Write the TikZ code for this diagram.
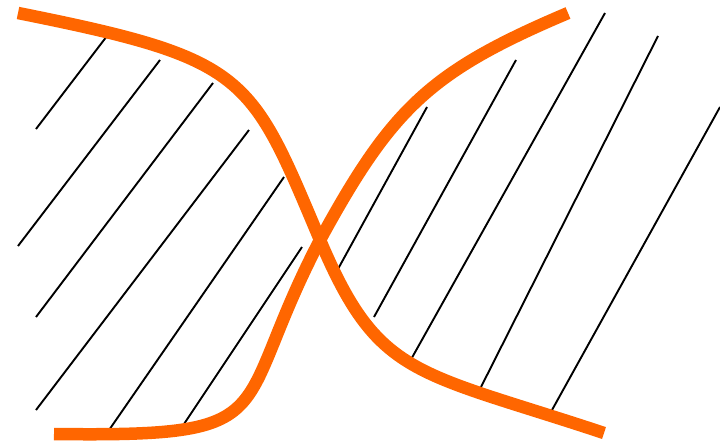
\documentclass[tikz,border=0pt]{standalone}
\usepackage{tikz}
\definecolor{curveorange}{HTML}{FF6600}
\tikzset{
  curve/.style={draw=curveorange, line width=12.5pt},
  hatch/.style={draw=black, line width=1.9pt}
}
\begin{document}
\begin{tikzpicture}[x=1pt, y=-1pt]
\useasboundingbox (0,0) rectangle (720,442);
% hatching, left group
\draw[hatch] (36,129) -- (107,36);
\draw[hatch] (18,246) -- (160,60);
\draw[hatch] (36,317) -- (213,83);
\draw[hatch] (36,410) -- (249,130);
\draw[hatch] (107,433) -- (284,177);
\draw[hatch] (178,433) -- (302,247);
% hatching, right group
\draw[hatch] (338,269) -- (427,107);
\draw[hatch] (374,317) -- (516,60);
\draw[hatch] (409,363) -- (605,13);
\draw[hatch] (481,387) -- (658,36);
\draw[hatch] (552,410) -- (720,107);
% orange curves
\coordinate (x) at (320,240);
\draw[curve] (18,13) .. controls (248,59) and (250,74) .. (x)
  .. controls (378.5,378) and (414,370) .. (604,433);
\draw[curve] (54,434) .. controls (290,437) and (228,416) .. (x)
  .. controls (392,108) and (430,71.5) .. (568,13);
\end{tikzpicture}
\end{document}
